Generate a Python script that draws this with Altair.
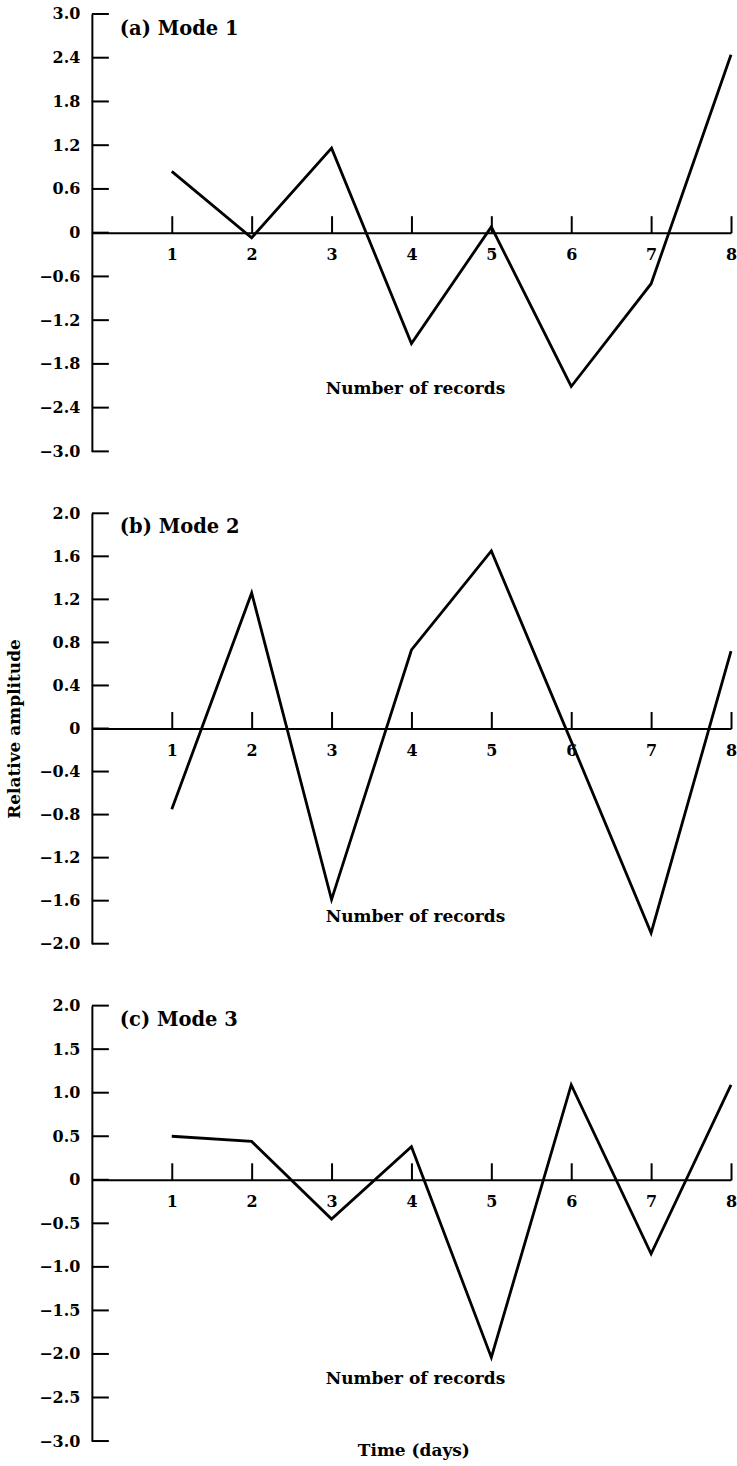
import altair as alt
import pandas as pd

# Record index along the time axis
records = [1, 2, 3, 4, 5, 6, 7, 8]

# Relative amplitude of each mode per record
mode1 = [0.84, -0.07, 1.16, -1.52, 0.08, -2.11, -0.70, 2.44]
mode2 = [-0.75, 1.26, -1.59, 0.73, 1.65, -0.12, -1.90, 0.72]
mode3 = [0.50, 0.44, -0.45, 0.38, -2.04, 1.09, -0.85, 1.09]

# Y tick values per panel
yticks1 = [-3.0, -2.4, -1.8, -1.2, -0.6, 0.0, 0.6, 1.2, 1.8, 2.4, 3.0]
yticks2 = [-2.0, -1.6, -1.2, -0.8, -0.4, 0.0, 0.4, 0.8, 1.2, 1.6, 2.0]
yticks3 = [-3.0, -2.5, -2.0, -1.5, -1.0, -0.5, 0.0, 0.5, 1.0, 1.5, 2.0]

FONT = "DejaVu Serif"
WIDTH = 640


def panel(values, yticks, ydom, height, title, title_y, note_y,
          ytitle=None, footer_y=None):
    zero_px = height * ydom[1] / (ydom[1] - ydom[0])
    xscale = alt.Scale(domain=[0, 8], nice=False, zero=False)
    yscale = alt.Scale(domain=ydom, nice=False, zero=False)

    # Time axis drawn along the zero line, ticks up, labels below
    xaxis = alt.Axis(
        orient="top", offset=-zero_px, values=records, format="d",
        tickSize=17, tickWidth=2, tickColor="black",
        domainWidth=2, domainColor="black", labelPadding=-31,
        labelBaseline="top", labelAngle=0, labelFlush=False,
        grid=False, title=None,
    )
    yaxis_kw = dict(
        orient="left", values=yticks, ticks=False, labelPadding=12,
        domainWidth=2, domainColor="black", grid=False, labelFlush=False,
        labelExpr="datum.value == 0 ? '0' : format(datum.value, '.1f')",
        title=None,
    )
    if ytitle:
        yaxis_kw.update(
            title=ytitle, titleX=-77, titleY=height / 2, titleAngle=270,
            titleAlign="center", titleBaseline="middle",
        )
    yaxis = alt.Axis(**yaxis_kw)

    def X(field):
        return alt.X(field, type="quantitative", scale=xscale, axis=xaxis)

    def Y(field):
        return alt.Y(field, type="quantitative", scale=yscale, axis=yaxis)

    def text_layer(x, y, label, size, align="center"):
        tdf = pd.DataFrame({"tx": [x], "ty": [y], "t": [label]})
        return alt.Chart(tdf).mark_text(
            align=align, baseline="middle", font=FONT, fontWeight="bold",
            fontSize=size, color="black",
        ).encode(x=X("tx"), y=Y("ty"), text="t:N")

    df = pd.DataFrame({"record": records, "amp": values})
    line = alt.Chart(df).mark_line(color="black", strokeWidth=2.8).encode(
        x=X("record"), y=Y("amp"),
    )

    # Inward-pointing tick marks on the amplitude axis
    tdf = pd.DataFrame({"v": yticks})
    yt = alt.Chart(tdf).mark_rule(color="black", strokeWidth=2).encode(
        y=Y("v"), x=alt.value(0), x2=alt.value(17),
    )

    layers = [line, yt,
              text_layer(0.35, title_y, title, 19.5, align="left"),
              text_layer(4.05, note_y, "Number of records", 17)]
    if footer_y is not None:
        layers.append(text_layer(4.03, footer_y, "Time (days)", 17))

    return alt.layer(*layers).properties(width=WIDTH, height=height)


pa = panel(mode1, yticks1, [-3.0, 3.0], 438, "(a) Mode 1", 2.8, -2.15)
pb = panel(mode2, yticks2, [-2.0, 2.0], 431, "(b) Mode 2", 1.87, -1.75,
           ytitle="Relative amplitude")
pc = panel(mode3, yticks3, [-3.0, 2.0], 436, "(c) Mode 3", 1.83, -2.29,
           footer_y=-3.11)

chart = alt.vconcat(pa, pb, pc, spacing=46).properties(
    padding={"left": 6, "top": 5, "right": 0, "bottom": 0}
).configure_view(stroke=None).configure_axis(
    labelFont=FONT, labelFontWeight="bold", labelFontSize=16,
    labelColor="black", titleFont=FONT, titleFontWeight="bold",
    titleFontSize=17, titleColor="black",
)

chart.save("out.html", embed_options={"renderer": "svg", "actions": False})
